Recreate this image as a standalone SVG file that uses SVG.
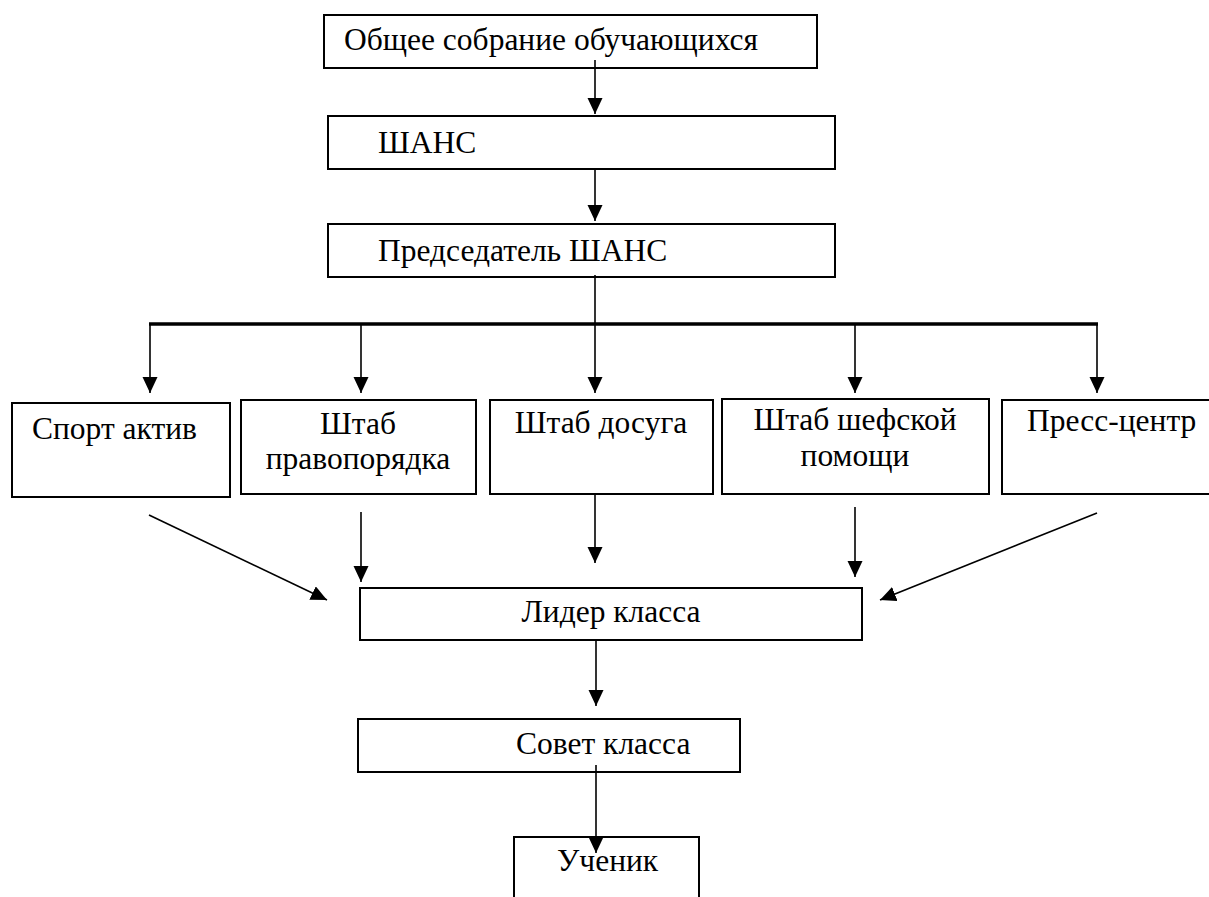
<svg xmlns="http://www.w3.org/2000/svg" width="1209" height="897" viewBox="0 0 1209 897">
<style>
.box{fill:#fff;stroke:#000;stroke-width:2}
.t{font-family:"Liberation Serif","Times New Roman",serif;font-size:31.5px;fill:#000}
.c{text-anchor:middle}
.ln{stroke:#000;stroke-width:1.6;fill:none}
.bus{stroke:#000;stroke-width:3.5;fill:none}
</style>
<defs>
<marker id="ah" markerUnits="userSpaceOnUse" markerWidth="17" markerHeight="16" refX="16" refY="7.5" orient="auto">
<path d="M0,0 L16,7.5 L0,15 Z" fill="#000"/>
</marker>
</defs>
<rect width="1209" height="897" fill="#fff"/>
<g id="n1"><rect class="box" x="324" y="15" width="493" height="53"/><text class="t" x="344" y="50">Общее собрание обучающихся</text></g>
<g id="n2"><rect class="box" x="328" y="116" width="507" height="53"/><text class="t" x="378" y="153">ШАНС</text></g>
<g id="n3"><rect class="box" x="328" y="224" width="507" height="53"/><text class="t" x="378" y="261">Председатель ШАНС</text></g>
<g id="n4"><rect class="box" x="12" y="403" width="218" height="94"/><text class="t" x="32" y="439">Спорт актив</text></g>
<g id="n5"><rect class="box" x="241" y="400" width="235" height="94"/><text class="t c" x="358" y="434">Штаб</text><text class="t c" x="358" y="469">правопорядка</text></g>
<g id="n6"><rect class="box" x="490" y="400" width="223" height="94"/><text class="t c" x="601" y="433">Штаб досуга</text></g>
<g id="n7"><rect class="box" x="722" y="399" width="267" height="95"/><text class="t c" x="855" y="430">Штаб шефской</text><text class="t c" x="855" y="466">помощи</text></g>
<g id="n8"><path class="box" d="M1210,400 L1002,400 L1002,494 L1210,494"/><text class="t" x="1027" y="431">Пресс-центр</text></g>
<g id="n9"><rect class="box" x="360" y="588" width="502" height="52"/><text class="t c" x="611" y="622">Лидер класса</text></g>
<g id="n10"><rect class="box" x="358" y="719" width="382" height="53"/><text class="t" x="516" y="754">Совет класса</text></g>
<g id="n11"><path class="box" d="M514,898 L514,837 L699,837 L699,898"/><text class="t" x="557" y="871">Ученик</text></g>
<g id="connectors">
<line class="ln" x1="595" y1="60" x2="595" y2="114" marker-end="url(#ah)"/>
<line class="ln" x1="595" y1="169" x2="595" y2="221" marker-end="url(#ah)"/>
<line class="ln" x1="595" y1="275" x2="595" y2="324"/>
<line class="bus" x1="149" y1="324" x2="1098" y2="324"/>
<line class="ln" x1="150" y1="324" x2="150" y2="393" marker-end="url(#ah)"/>
<line class="ln" x1="361" y1="324" x2="361" y2="393" marker-end="url(#ah)"/>
<line class="ln" x1="595" y1="324" x2="595" y2="393" marker-end="url(#ah)"/>
<line class="ln" x1="855" y1="324" x2="855" y2="393" marker-end="url(#ah)"/>
<line class="ln" x1="1097" y1="324" x2="1097" y2="393" marker-end="url(#ah)"/>
<line class="ln" x1="149" y1="515" x2="327" y2="600" marker-end="url(#ah)"/>
<line class="ln" x1="361" y1="512" x2="361" y2="582" marker-end="url(#ah)"/>
<line class="ln" x1="595" y1="494" x2="595" y2="563" marker-end="url(#ah)"/>
<line class="ln" x1="855" y1="507" x2="855" y2="577" marker-end="url(#ah)"/>
<line class="ln" x1="1097" y1="513" x2="880" y2="600" marker-end="url(#ah)"/>
<line class="ln" x1="596" y1="640" x2="596" y2="706" marker-end="url(#ah)"/>
<line class="ln" x1="596" y1="765" x2="596" y2="853" marker-end="url(#ah)"/>
</g>
</svg>
